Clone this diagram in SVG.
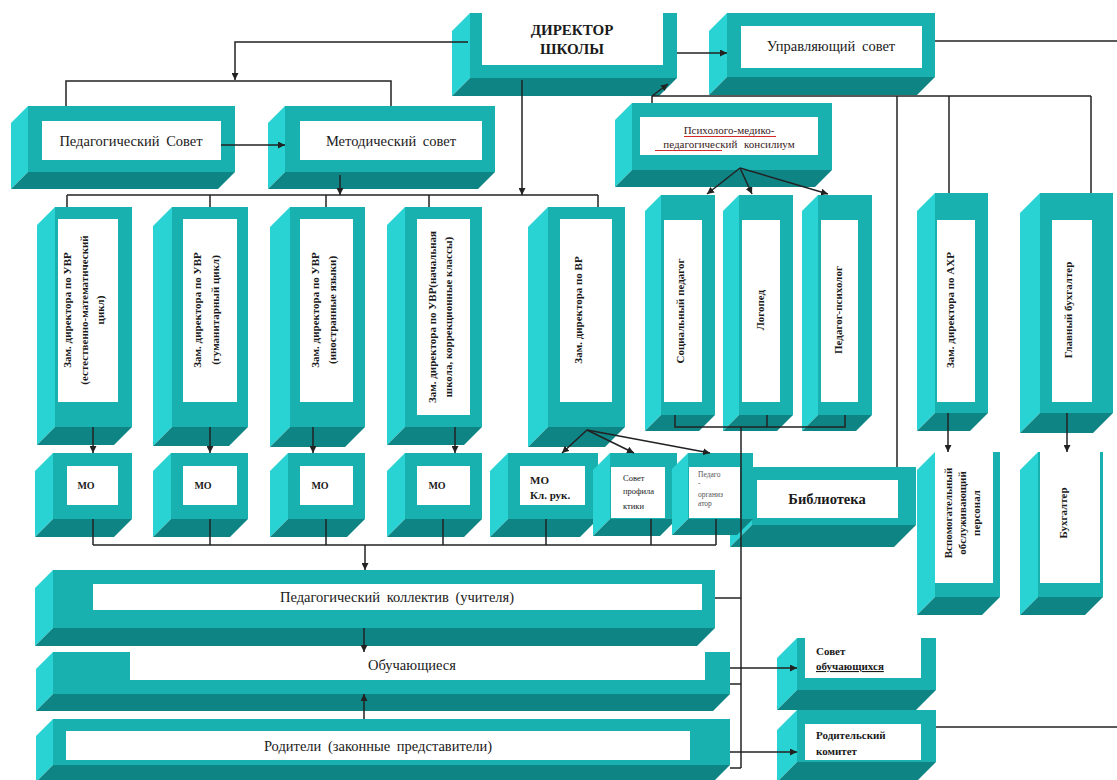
<svg xmlns="http://www.w3.org/2000/svg" width="1117" height="780" viewBox="0 0 1117 780" font-family="'Liberation Serif', 'DejaVu Serif', serif">
<defs>
<style>
.l{fill:#2ad3d3}
.f{fill:#19b0b0}
.b{fill:#0e8484}
.w{fill:#ffffff}
text{font-family:'Liberation Serif','DejaVu Serif',serif;fill:#1a1a1a}
.t14{font-size:14.5px;text-anchor:middle;word-spacing:3px}
.v{font-size:11px;font-weight:bold;text-anchor:middle}
.mo{font-size:10px;font-weight:bold;text-anchor:middle}
.c line,.c polyline,.c path{stroke:#222;stroke-width:1.5;fill:none}
.c .a{marker-end:url(#ah)}
.red{stroke:#d01010;stroke-width:0.9;fill:none}
</style>
<marker id="ah" viewBox="0 0 10 10" refX="10" refY="5" markerWidth="7" markerHeight="7" markerUnits="userSpaceOnUse" orient="auto">
<path d="M0,0 L10,5 L0,10 z" fill="#222"/>
</marker>
</defs>
<rect width="1117" height="780" fill="#ffffff"/>

<g id="director">
<polygon class="l" points="470,13 452,31 452,96 470,78"/>
<polygon class="b" points="470,78 677,78 659,96 452,96"/>
<rect class="f" x="470" y="13" width="207" height="65"/>
<rect class="w" x="482" y="13" width="181" height="52"/>
<text x="572" y="35" style="font-size:15px;font-weight:bold;text-anchor:middle">ДИРЕКТОР</text>
<text x="572" y="54" style="font-size:15px;font-weight:bold;text-anchor:middle">ШКОЛЫ</text>
</g>

<g id="upr-sovet">
<polygon class="l" points="727,13 709,31 709,95 727,77"/>
<polygon class="b" points="727,77 935,77 917,95 709,95"/>
<rect class="f" x="727" y="13" width="208" height="64"/>
<rect class="w" x="741" y="26" width="181" height="42"/>
<text class="t14" x="831" y="51">Управляющий совет</text>
</g>

<g id="ped-sovet">
<polygon class="l" points="28,106 11,123 11,189 28,172"/>
<polygon class="b" points="28,172 235,172 218,189 11,189"/>
<rect class="f" x="28" y="106" width="207" height="66"/>
<rect class="w" x="42" y="121" width="179" height="39"/>
<text class="t14" x="131" y="146">Педагогический Совет</text>
</g>

<g id="metod-sovet">
<polygon class="l" points="285,106 268,123 268,189 285,172"/>
<polygon class="b" points="285,172 495,172 478,189 268,189"/>
<rect class="f" x="285" y="106" width="210" height="66"/>
<rect class="w" x="300" y="121" width="182" height="39"/>
<text class="t14" x="391" y="146">Методический совет</text>
</g>

<g id="ppk">
<polygon class="l" points="632,103 615,120 615,187 632,170"/>
<polygon class="b" points="632,170 832,170 815,187 615,187"/>
<rect class="f" x="632" y="103" width="200" height="67"/>
<rect class="w" x="640" y="117" width="178" height="38"/>
<text x="729" y="134" style="font-size:11px;text-anchor:middle;fill:#3a2020">Психолого-медико-</text>
<text x="729" y="148" style="font-size:11px;text-anchor:middle;word-spacing:4px;fill:#3a2020">педагогический консилиум</text>
<path class="red" d="M684,136.5 H776 M655,150.5 H722"/>
</g>

<g id="zam-uvr-1">
<polygon class="l" points="55,207 37,225 37,445 55,427"/>
<polygon class="b" points="55,427 132,427 114,445 37,445"/>
<rect class="f" x="55" y="207" width="77" height="220"/>
<rect class="w" x="58" y="219" width="60" height="183"/>
<text class="v" transform="translate(71,310) rotate(-90)"><tspan x="0" dy="0">Зам. директора по УВР</tspan><tspan x="0" dy="16.5">(естественно-математический</tspan><tspan x="0" dy="16.5">цикл)</tspan></text>
</g>

<g id="zam-uvr-2">
<polygon class="l" points="172,207 153,226 153,446 172,427"/>
<polygon class="b" points="172,427 248,427 229,446 153,446"/>
<rect class="f" x="172" y="207" width="76" height="220"/>
<rect class="w" x="183" y="219" width="54" height="183"/>
<text class="v" transform="translate(201,310) rotate(-90)"><tspan x="0" dy="0">Зам. директора по УВР</tspan><tspan x="0" dy="18">(гуманитарный цикл)</tspan></text>
</g>

<g id="zam-uvr-3">
<polygon class="l" points="290,207 270,227 270,447 290,427"/>
<polygon class="b" points="290,427 365,427 345,447 270,447"/>
<rect class="f" x="290" y="207" width="75" height="220"/>
<rect class="w" x="300" y="219" width="53" height="183"/>
<text class="v" transform="translate(319,310) rotate(-90)"><tspan x="0" dy="0">Зам. директора по УВР</tspan><tspan x="0" dy="17">(иностранные языки)</tspan></text>
</g>

<g id="zam-uvr-4">
<polygon class="l" points="405,207 387,225 387,445 405,427"/>
<polygon class="b" points="405,427 482,427 464,445 387,445"/>
<rect class="f" x="405" y="207" width="77" height="220"/>
<rect class="w" x="417" y="219" width="53" height="196"/>
<text class="v" transform="translate(436,317) rotate(-90)"><tspan x="0" dy="0">Зам. директора по УВР(начальная</tspan><tspan x="0" dy="16">школа, коррекционные классы)</tspan></text>
</g>

<g id="zam-vr">
<polygon class="l" points="548,207 528,227 528,447 548,427"/>
<polygon class="b" points="548,427 625,427 605,447 528,447"/>
<rect class="f" x="548" y="207" width="77" height="220"/>
<rect class="w" x="560" y="219" width="52" height="183"/>
<text class="v" transform="translate(582,310) rotate(-90)">Зам. директора по ВР</text>
</g>

<g id="soc-ped">
<polygon class="l" points="661,195 645,211 645,431 661,415"/>
<polygon class="b" points="661,415 715,415 699,431 645,431"/>
<rect class="f" x="661" y="195" width="54" height="220"/>
<rect class="w" x="664" y="220" width="38" height="182"/>
<text class="v" transform="translate(684,311) rotate(-90)">Социальный педагог</text>
</g>

<g id="logoped">
<polygon class="l" points="739,195 723,211 723,431 739,415"/>
<polygon class="b" points="739,415 793,415 777,431 723,431"/>
<rect class="f" x="739" y="195" width="54" height="220"/>
<rect class="w" x="742" y="220" width="38" height="182"/>
<text class="v" transform="translate(764,310) rotate(-90)">Логопед</text>
</g>

<g id="psiholog">
<polygon class="l" points="818,195 802,211 802,431 818,415"/>
<polygon class="b" points="818,415 872,415 856,431 802,431"/>
<rect class="f" x="818" y="195" width="54" height="220"/>
<rect class="w" x="821" y="220" width="37" height="182"/>
<text class="v" transform="translate(842,310) rotate(-90)">Педагог-психолог</text>
</g>

<g id="zam-ahr">
<polygon class="l" points="935,193 917,211 917,431 935,413"/>
<polygon class="b" points="935,413 988,413 970,431 917,431"/>
<rect class="f" x="935" y="193" width="53" height="220"/>
<rect class="w" x="937" y="220" width="38" height="182"/>
<text class="v" transform="translate(954,310) rotate(-90)">Зам. директора по АХР</text>
</g>

<g id="gl-buh">
<polygon class="l" points="1040,193 1020,213 1020,433 1040,413"/>
<polygon class="b" points="1040,413 1113,413 1093,433 1020,433"/>
<rect class="f" x="1040" y="193" width="73" height="220"/>
<rect class="w" x="1052" y="220" width="40" height="182"/>
<text class="v" transform="translate(1072,310) rotate(-90)">Главный бухгалтер</text>
</g>

<g id="mo-1">
<polygon class="l" points="53,453 35,471 35,537 53,519"/>
<polygon class="b" points="53,519 132,519 114,537 35,537"/>
<rect class="f" x="53" y="453" width="79" height="66"/>
<rect class="w" x="67" y="466" width="51" height="39"/>
<text class="mo" x="86" y="489">МО</text>
</g>

<g id="mo-2">
<polygon class="l" points="171,453 153,471 153,537 171,519"/>
<polygon class="b" points="171,519 248,519 230,537 153,537"/>
<rect class="f" x="171" y="453" width="77" height="66"/>
<rect class="w" x="183" y="466" width="54" height="39"/>
<text class="mo" x="203" y="489">МО</text>
</g>

<g id="mo-3">
<polygon class="l" points="288,453 270,471 270,537 288,519"/>
<polygon class="b" points="288,519 365,519 347,537 270,537"/>
<rect class="f" x="288" y="453" width="77" height="66"/>
<rect class="w" x="300" y="466" width="53" height="39"/>
<text class="mo" x="320" y="489">МО</text>
</g>

<g id="mo-4">
<polygon class="l" points="405,453 387,471 387,537 405,519"/>
<polygon class="b" points="405,519 482,519 464,537 387,537"/>
<rect class="f" x="405" y="453" width="77" height="66"/>
<rect class="w" x="417" y="466" width="53" height="39"/>
<text class="mo" x="437" y="489">МО</text>
</g>

<g id="mo-klruk">
<polygon class="l" points="508,453 490,471 490,537 508,519"/>
<polygon class="b" points="508,519 598,519 580,537 490,537"/>
<rect class="f" x="508" y="453" width="90" height="66"/>
<rect class="w" x="520" y="466" width="65" height="39"/>
<text x="530" y="484" style="font-size:11px;font-weight:bold">МО</text>
<text x="530" y="499" style="font-size:11px;font-weight:bold">Кл. рук.</text>
</g>

<g id="sovet-prof">
<polygon class="l" points="610,453 593,470 593,536 610,519"/>
<polygon class="b" points="610,519 677,519 660,536 593,536"/>
<rect class="f" x="610" y="453" width="67" height="66"/>
<rect class="w" x="611" y="467" width="54" height="51"/>
<text x="623" y="481" style="font-size:8.5px">Совет</text>
<text x="623" y="494" style="font-size:8.5px">профила</text>
<text x="623" y="509" style="font-size:8.5px">ктики</text>
</g>

<g id="biblioteka">
<polygon class="l" points="752,467 730,489 730,547 752,525"/>
<polygon class="b" points="752,525 916,525 894,547 730,547"/>
<rect class="f" x="752" y="467" width="164" height="58"/>
<rect class="w" x="757" y="480" width="141" height="38"/>
<text x="827" y="504" style="font-size:14.5px;font-weight:bold;text-anchor:middle">Библиотека</text>
</g>

<g id="ped-org">
<polygon class="l" points="688,453 672,469 672,535 688,519"/>
<polygon class="b" points="688,519 753,519 737,535 672,535"/>
<rect class="f" x="688" y="453" width="65" height="66"/>
<rect class="w" x="689" y="467" width="51" height="51"/>
<text x="698" y="477" style="font-size:7.5px;fill:#555">Педаго</text>
<text x="698" y="486" style="font-size:7.5px;fill:#555">-</text>
<text x="698" y="497" style="font-size:7.5px;fill:#555">организ</text>
<text x="698" y="506" style="font-size:7.5px;fill:#555">атор</text>
</g>

<g id="vspom">
<polygon class="l" points="935,452 917,470 917,615 935,597"/>
<polygon class="b" points="935,597 1000,597 982,615 917,615"/>
<rect class="f" x="935" y="452" width="65" height="145"/>
<rect class="w" x="935" y="452" width="58" height="131"/>
<text class="v" transform="translate(952,513) rotate(-90)"><tspan x="0" dy="0">Вспомогательный</tspan><tspan x="0" dy="14">обслуживающий</tspan><tspan x="0" dy="14">персонал</tspan></text>
</g>

<g id="buh">
<polygon class="l" points="1038,452 1020,470 1020,615 1038,597"/>
<polygon class="b" points="1038,597 1103,597 1085,615 1020,615"/>
<rect class="f" x="1038" y="452" width="65" height="145"/>
<rect class="w" x="1040" y="452" width="60" height="131"/>
<text class="v" transform="translate(1067,513) rotate(-90)">Бухгалтер</text>
</g>

<g id="ped-kollektiv">
<polygon class="l" points="53,570 35,588 35,646 53,628"/>
<polygon class="b" points="53,628 715,628 697,646 35,646"/>
<rect class="f" x="53" y="570" width="662" height="58"/>
<rect class="w" x="93" y="584" width="609" height="26"/>
<text class="t14" x="397" y="602">Педагогический коллектив (учителя)</text>
</g>

<g id="obuch">
<polygon class="l" points="53,652 36,669 36,711 53,694"/>
<polygon class="b" points="53,694 730,694 713,711 36,711"/>
<rect class="f" x="53" y="652" width="677" height="42"/>
<rect class="w" x="130" y="652" width="575" height="28"/>
<text class="t14" x="412" y="670">Обучающиеся</text>
</g>

<g id="roditeli">
<polygon class="l" points="53,719 36,736 36,782 53,765"/>
<polygon class="b" points="53,765 730,765 713,782 36,782"/>
<rect class="f" x="53" y="719" width="677" height="46"/>
<rect class="w" x="66" y="731" width="624" height="29"/>
<text class="t14" x="378" y="751">Родители (законные представители)</text>
</g>

<g id="sovet-obuch">
<polygon class="l" points="797,638 777,658 777,710 797,690"/>
<polygon class="b" points="797,690 936,690 916,710 777,710"/>
<rect class="f" x="797" y="638" width="139" height="52"/>
<rect class="w" x="805" y="638" width="116" height="40"/>
<text x="816" y="655" style="font-size:11px;font-weight:bold">Совет</text>
<text x="816" y="670" style="font-size:11px;font-weight:bold;text-decoration:underline">обучающихся</text>
</g>

<g id="rod-komitet">
<polygon class="l" points="797,710 777,730 777,782 797,762"/>
<polygon class="b" points="797,762 936,762 916,782 777,782"/>
<rect class="f" x="797" y="710" width="139" height="52"/>
<rect class="w" x="805" y="724" width="116" height="36"/>
<text x="816" y="739" style="font-size:11px;font-weight:bold">Родительский</text>
<text x="816" y="755" style="font-size:11px;font-weight:bold">комитет</text>
</g>

<g id="connectors" class="c">
<polyline class="a" points="468,42 235,42 235,80"/>
<polyline points="66,106 66,81 391,81 391,106"/>
<line class="a" x1="221" y1="145" x2="285" y2="145"/>
<line class="a" x1="522" y1="80" x2="522" y2="195"/>
<line class="a" x1="340" y1="175" x2="340" y2="195"/>
<line x1="67" y1="195" x2="598" y2="195"/>
<line x1="67" y1="195" x2="67" y2="207"/>
<line x1="210" y1="195" x2="210" y2="207"/>
<line x1="326" y1="195" x2="326" y2="207"/>
<line x1="429" y1="195" x2="429" y2="207"/>
<line x1="598" y1="195" x2="598" y2="207"/>
<line class="a" x1="677" y1="53" x2="727" y2="53"/>
<line x1="935" y1="41" x2="1117" y2="41"/>
<line x1="652" y1="96" x2="1091" y2="96"/>
<line x1="652" y1="96" x2="652" y2="103"/>
<line class="a" x1="652" y1="96" x2="668" y2="84"/>
<line x1="897" y1="96" x2="897" y2="467"/>
<line x1="949" y1="96" x2="949" y2="193"/>
<line x1="1091" y1="96" x2="1091" y2="193"/>
<line class="a" x1="740" y1="168" x2="707" y2="194"/>
<line class="a" x1="740" y1="168" x2="752" y2="194"/>
<line class="a" x1="740" y1="168" x2="828" y2="194"/>
<line class="a" x1="93" y1="427" x2="93" y2="453"/>
<line class="a" x1="210" y1="427" x2="210" y2="453"/>
<line class="a" x1="313" y1="427" x2="313" y2="453"/>
<line class="a" x1="455" y1="427" x2="455" y2="453"/>
<line class="a" x1="587" y1="430" x2="562" y2="453"/>
<line class="a" x1="587" y1="430" x2="634" y2="453"/>
<line class="a" x1="587" y1="430" x2="710" y2="453"/>
<line class="a" x1="948" y1="413" x2="948" y2="452"/>
<line class="a" x1="1067" y1="413" x2="1067" y2="452"/>
<polyline points="675,415 675,427 845,427 845,415"/>
<line x1="767" y1="415" x2="767" y2="427"/>
<line x1="741" y1="427" x2="741" y2="768"/>
<line x1="93" y1="545" x2="716" y2="545"/>
<line x1="93" y1="519" x2="93" y2="545"/>
<line x1="210" y1="519" x2="210" y2="545"/>
<line x1="326" y1="519" x2="326" y2="545"/>
<line x1="443" y1="519" x2="443" y2="545"/>
<line x1="546" y1="519" x2="546" y2="545"/>
<line x1="651" y1="519" x2="651" y2="545"/>
<line x1="716" y1="519" x2="716" y2="545"/>
<line class="a" x1="365" y1="545" x2="365" y2="570"/>
<line class="a" x1="364" y1="628" x2="364" y2="652"/>
<line class="a" x1="364" y1="719" x2="364" y2="694"/>
<line x1="715" y1="598" x2="741" y2="598"/>
<line x1="730" y1="684" x2="741" y2="684"/>
<line x1="730" y1="768" x2="741" y2="768"/>
<line class="a" x1="730" y1="668" x2="797" y2="668"/>
<line class="a" x1="730" y1="752" x2="797" y2="752"/>
<line x1="936" y1="727" x2="1117" y2="727"/>
</g>
</svg>
